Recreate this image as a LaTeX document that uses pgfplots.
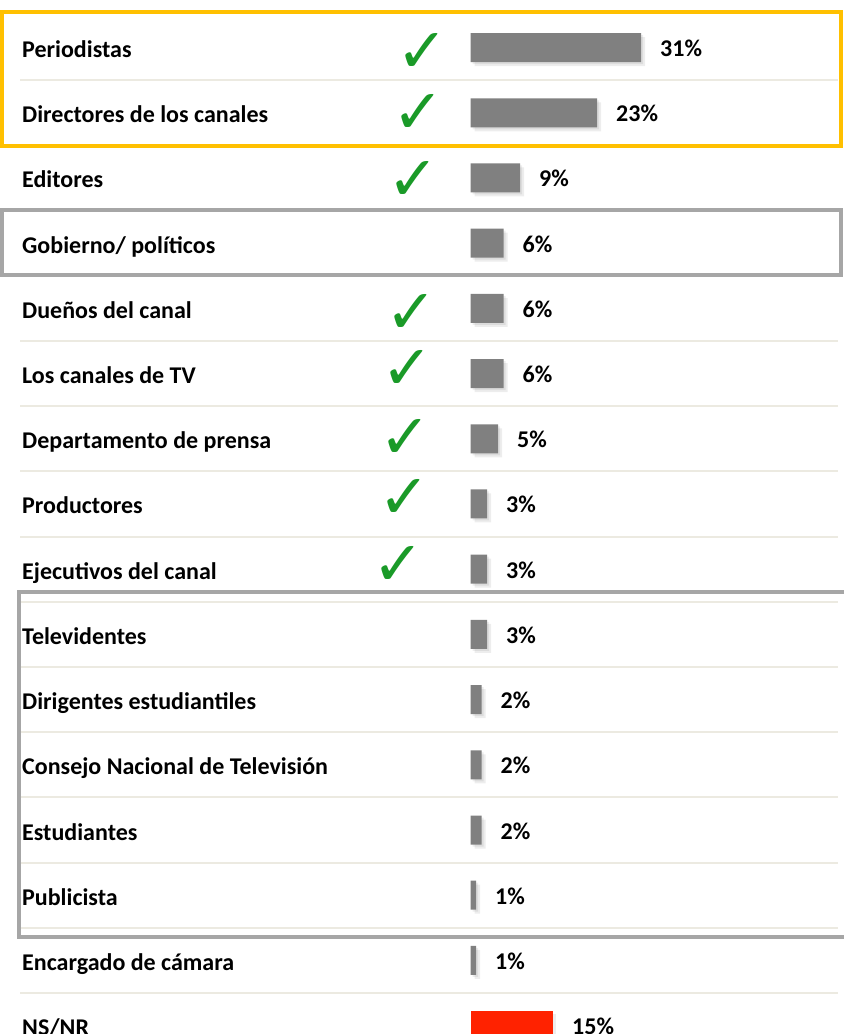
\documentclass[border=0pt]{standalone}
\usepackage{pgfplots}
\pgfplotsset{compat=1.18}
\usepackage{fontspec}
\setmainfont{Carlito}
\newfontfamily\checkfont{DejaVu Sans}
\definecolor{barGray}{HTML}{808080}
\definecolor{nsRed}{HTML}{FF2200}
\definecolor{boxOrange}{HTML}{FFC000}
\definecolor{boxGray}{HTML}{A6A6A6}
\definecolor{sepLine}{HTML}{ECEAE1}
\definecolor{checkGreen}{HTML}{1A9A28}

\pgfplotstableread{
row value
0 31
1 23
2 9
3 6
4 6
5 6
6 5
7 3
8 3
9 3
10 2
11 2
12 2
13 1
14 1
}\graybars
\pgfplotstableread{
row value
15 15
}\redbars

\begin{document}
\begin{tikzpicture}
\begin{axis}[
  width=844pt, height=1034pt, scale only axis,
  xmin=-85.545, xmax=67.909,
  ymin=-0.730, ymax=15.129, y dir=reverse,
  axis line style={draw=none},
  major tick length=0pt,
  xtick=\empty,
  ytick={0,...,15},
  /pgf/number format/assume math mode=true,
  yticklabels={Periodistas, Directores de los canales, Editores, Gobierno/ políticos, Dueños del canal, Los canales de TV, Departamento de prensa, Productores, Ejecutivos del canal, Televidentes, Dirigentes estudiantiles, Consejo Nacional de Televisión, Estudiantes, Publicista, Encargado de cámara, NS/NR},
  yticklabel style={font=\fontsize{24}{28}\selectfont\bfseries, inner sep=0pt, anchor=base west, xshift=22pt, yshift=-10pt},
  barlab/.style={nodes near coords={\pgfmathprintnumber{\pgfplotspointmeta}\%}, point meta=x,
     nodes near coords style={font=\fontsize{24}{28}\selectfont\bfseries, inner sep=0pt, anchor=base west, xshift=19pt, yshift=-9pt, text=black}},
]
% separators
\pgfplotsinvokeforeach{0,...,14}{
  \draw[sepLine, line width=2pt] (axis cs:-81.9,#1.5) -- (axis cs:66.8,#1.5);
}
% shadows
\addplot[xbar, bar width=29pt, bar shift=0pt, draw=none, fill=black, opacity=0.07, xshift=2pt, yshift=-2pt, forget plot] table[x=value, y=row] {\graybars};
\addplot[xbar, bar width=29pt, bar shift=0pt, draw=none, fill=black, opacity=0.07, xshift=4pt, yshift=-4pt, forget plot] table[x=value, y=row] {\graybars};
\addplot[xbar, bar width=29pt, bar shift=0pt, draw=none, fill=black, opacity=0.07, xshift=3pt, yshift=-3pt, forget plot] table[x=value, y=row] {\redbars};
% bars
\addplot[xbar, bar width=29pt, bar shift=0pt, draw=none, fill=barGray, barlab] table[x=value, y=row] {\graybars};
\addplot[xbar, bar width=29pt, bar shift=0pt, draw=none, fill=nsRed, barlab] table[x=value, y=row] {\redbars};
% check marks
\addplot[only marks, mark=text, text mark={\checkfont\fontsize{62}{62}\selectfont\color{checkGreen}✓},
  mark options={checkGreen}] coordinates {
  (-8.82,0.08) (-9.55,1.02) (-10.45,2.05) (-10.82,4.08) (-11.55,4.95) (-11.91,6) (-12.09,6.92) (-13.18,7.95)
};
% boxes
\draw[boxOrange, line width=4pt] (axis cs:-85.18,-0.546) rectangle (axis cs:67.36,1.509);
\draw[boxGray, line width=4pt] (axis cs:-85.18,2.498) rectangle (axis cs:67.36,3.488);
\draw[boxGray, line width=4pt] (axis cs:67.909,8.35) -- (axis cs:-82.09,8.35) -- (axis cs:-82.09,13.64) -- (axis cs:67.909,13.64);
\end{axis}
\pgfresetboundingbox
\path[use as bounding box] (current axis.south west) rectangle (current axis.north east);
\end{tikzpicture}
\end{document}
